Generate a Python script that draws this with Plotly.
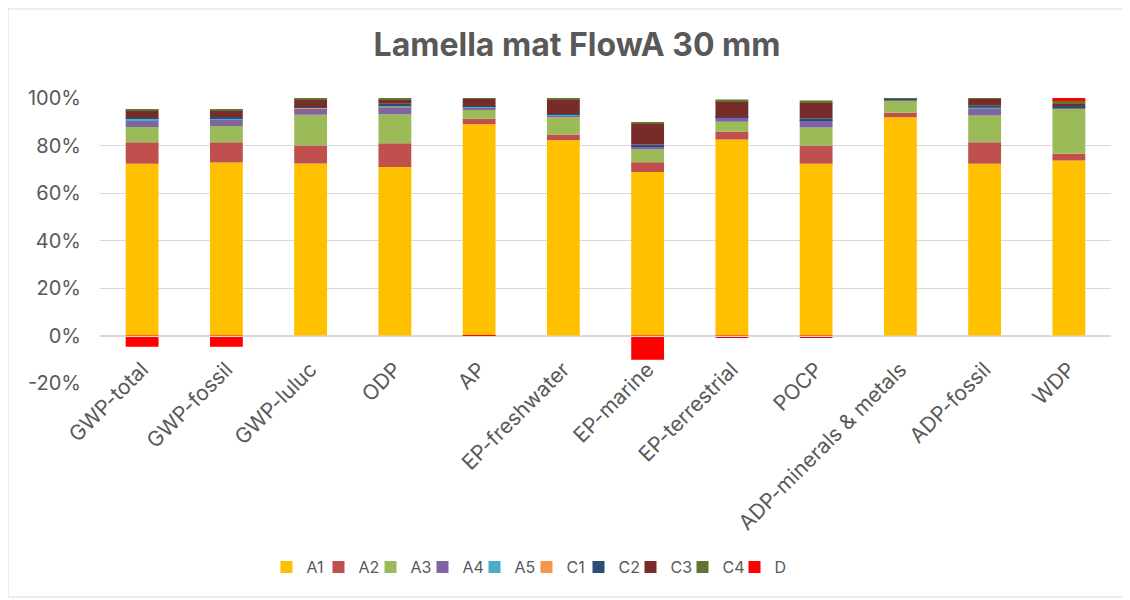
import plotly.graph_objects as go

categories = ["GWP-total", "GWP-fossil", "GWP-luluc", "ODP", "AP", "EP-freshwater",
              "EP-marine", "EP-terrestrial", "POCP", "ADP-minerals & metals",
              "ADP-fossil", "WDP"]

A1 = [72.3, 72.8, 72.4, 70.9, 88.9, 82.2, 68.8, 82.5, 72.3, 91.9, 72.3, 73.7]
A2 = [9.1, 8.6, 7.6, 10.1, 2.4, 2.4, 4.2, 3.4, 7.6, 1.9, 9.1, 2.8]
A3 = [6.4, 6.8, 12.9, 12.2, 3.6, 7.3, 5.3, 4.1, 7.7, 5.0, 11.2, 18.9]
A4 = [2.9, 2.9, 2.5, 2.9, 1.3, 0.9, 1.3, 1.6, 2.8, 0.7, 2.9, 0.6]
A5 = [0.5, 0.3, 0.3, 0.3, 0.1, 0.1, 0.1, 0.1, 0.2, 0.05, 0.3, 0.1]
C1 = [0.1, 0.1, 0.1, 0.1, 0.05, 0.05, 0.05, 0.05, 0.1, 0.02, 0.1, 0.05]
C2 = [0.5, 0.5, 0.5, 1.1, 0.2, 0.3, 0.7, 0.3, 0.8, 0.1, 1.1, 0.5]
C3 = [3.1, 2.9, 3.2, 1.9, 3.1, 6.3, 8.7, 6.6, 6.4, 0.2, 2.6, 0.8]
C4 = [0.4, 0.3, 0.2, 0.3, 0.2, 0.3, 0.7, 0.7, 1.1, 0.1, 0.3, 1.7]
D = [-4.7, -4.7, 0.0, 0.0, -0.3, 0.0, -10.2, -1.0, -1.0, 0.0, 0.0, 0.8]

series_names = ["A1", "A2", "A3", "A4", "A5", "C1", "C2", "C3", "C4", "D"]
series_values = [A1, A2, A3, A4, A5, C1, C2, C3, C4, D]
series_colors = ["#FFC000", "#C0504D", "#9BBB59", "#8064A2", "#4BACC6",
                 "#F79646", "#2C4D75", "#772C2A", "#5F7530", "#FF0000"]

y_ticks = [-20, 0, 20, 40, 60, 80, 100]

font_family = "Inter, Open Sans, Liberation Sans, sans-serif"
txt = "#595959"

fig = go.Figure()
for name, vals, col in zip(series_names, series_values, series_colors):
    fig.add_trace(go.Bar(name=name, x=categories, y=vals,
                         marker=dict(color=col, line=dict(width=0))))

OFF = 8  # page body margin
W, H = 1130 - OFF, 600 - OFF
L, R = 100 - OFF, 19
T = 98 - OFF
B = H - (383 - OFF)
pw, ph = W - L - R, H - T - B

def px_x(p):
    return (p - OFF - L) / pw

def px_y(p):
    return (H - B - (p - OFF)) / ph

fig.update_layout(
    width=W, height=H,
    barmode="relative",
    bargap=0.61,
    paper_bgcolor="white", plot_bgcolor="white",
    margin=dict(l=L, r=R, t=T, b=B),
    font=dict(family=font_family, color=txt, size=20),
    title=dict(text="<b>Lamella mat FlowA 30 mm</b>", x=(577 - OFF) / W, xref="container",
               xanchor="center", y=1 - (45 - OFF) / H, yref="container", yanchor="middle",
               font=dict(size=32, color=txt, family=font_family)),
    xaxis=dict(anchor="free", position=px_y(336), showline=True, linecolor="#D9D9D9",
               linewidth=1, ticks="", tickangle=-45, tickfont=dict(size=21, color=txt),
               showgrid=False, ticklabelstandoff=12),
    yaxis=dict(range=[-20, 100], tickvals=y_ticks, ticktext=[f"{v}%" for v in y_ticks],
               showgrid=True, gridcolor="#D9D9D9", gridwidth=1, zeroline=False,
               tickfont=dict(size=20, color=txt), ticks="", ticklabelstandoff=18),
    legend=dict(orientation="h", x=px_x(266.5), xanchor="left", y=px_y(567), yanchor="middle",
                font=dict(size=16, color=txt), traceorder="normal",
                entrywidth=7, entrywidthmode="pixels"),
    showlegend=True,
)

fig.add_shape(type="rect", xref="paper", yref="paper",
              x0=px_x(8), x1=px_x(1123), y0=px_y(597), y1=px_y(9),
              line=dict(color="#D9D9D9", width=1), fillcolor="rgba(0,0,0,0)", layer="below")

fig.write_html("out.html")
